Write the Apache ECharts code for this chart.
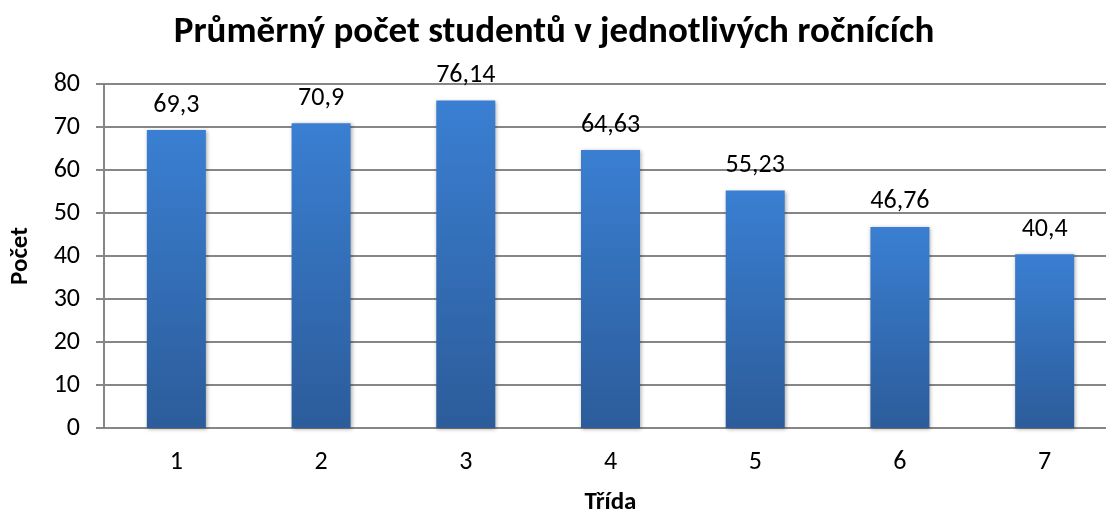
<!DOCTYPE html>
<html>
<head>
<meta charset="utf-8">
<script src="https://cdn.jsdelivr.net/npm/echarts@6/dist/echarts.min.js"></script>
<style>
  html, body { margin: 0; padding: 0; background: #fff; }
  #chart { width: 1106px; height: 513px; }
</style>
</head>
<body>
<div id="chart"></div>
<script>
// kategorie (třídy) a hodnoty
var tridy = ['1', '2', '3', '4', '5', '6', '7']
var prumerPocet = [69.3, 70.9, 76.14, 64.63, 55.23, 46.76, 40.4]
var yTicks = [0, 10, 20, 30, 40, 50, 60, 70, 80]

var font = 'Carlito, Lato, "Liberation Sans", sans-serif'

var chart = echarts.init(document.getElementById('chart'))
var option = {
  animation: false,
  textStyle: { fontFamily: font },
  title: {
    text: 'Průměrný počet studentů v jednotlivých ročnících',
    left: 549, top: 9, textAlign: 'center',
    textStyle: { fontFamily: font, fontSize: 37, fontWeight: 'bold', color: '#000' }
  },
  grid: { left: 104, top: 84, bottom: 85, width: 1013, containLabel: false, outerBoundsMode: 'none' },
  xAxis: {
    type: 'category',
    data: tridy,
    name: 'Třída',
    nameLocation: 'middle',
    nameGap: 62,
    nameTextStyle: { fontFamily: font, fontSize: 25, fontWeight: 'bold', color: '#000' },
    axisLine: { lineStyle: { color: '#868686', width: 2 } },
    axisTick: { show: false },
    axisLabel: { fontFamily: font, fontSize: 26, color: '#000', margin: 21 }
  },
  yAxis: {
    type: 'value',
    min: yTicks[0], max: yTicks[yTicks.length - 1], interval: 10,
    name: 'Počet',
    nameLocation: 'middle',
    nameGap: 71,
    nameRotate: 90,
    nameTextStyle: { fontFamily: font, fontSize: 25, fontWeight: 'bold', color: '#000' },
    axisLine: { show: true, lineStyle: { color: '#868686', width: 2 } },
    axisTick: { show: true, length: 8, lineStyle: { color: '#868686', width: 2 } },
    splitLine: { lineStyle: { color: '#868686', width: 2 } },
    axisLabel: { fontFamily: font, fontSize: 26, color: '#000', margin: 24 }
  },
  series: [{
    type: 'bar',
    data: prumerPocet,
    barWidth: 59,
    itemStyle: {
      color: new echarts.graphic.LinearGradient(0, 0, 0, 1, [
        { offset: 0, color: '#3a7fd2' },
        { offset: 1, color: '#2c5c9a' }
      ]),
      shadowColor: 'rgba(0,0,0,0.35)',
      shadowBlur: 4,
      shadowOffsetX: 1,
      shadowOffsetY: 1
    },
    label: {
      show: true,
      position: 'top',
      distance: 12,
      fontFamily: font,
      fontSize: 26,
      color: '#000',
      formatter: function (p) { return String(p.value).replace('.', ',') }
    }
  }]
}
chart.setOption(option)
</script>
</body>
</html>
